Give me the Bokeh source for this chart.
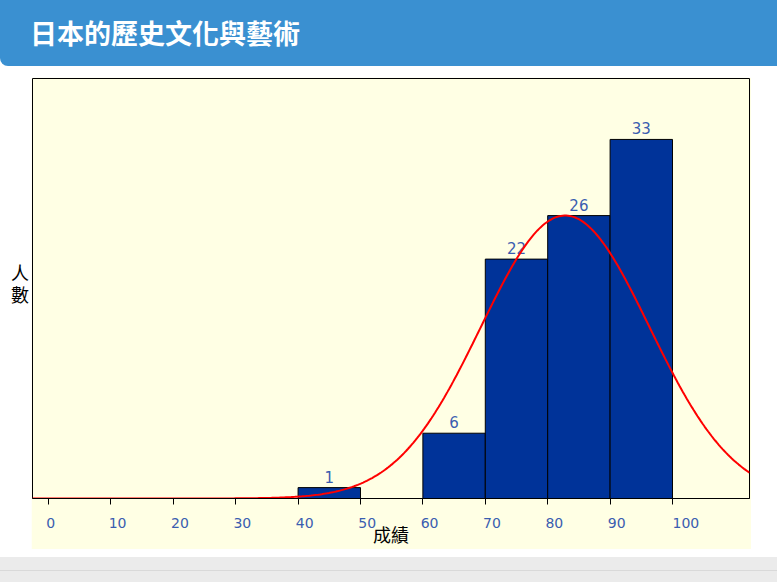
import numpy as np
from bokeh.plotting import figure
from bokeh.models import Range1d, FixedTicker, ColumnDataSource, Div, Spacer
from bokeh.layouts import column, row
from bokeh.core.properties import value
from bokeh.embed import file_html
from bokeh.resources import INLINE

# ---- data ----
title_text = "日本的歷史文化與藝術"
x_title = "成績"
y_title = "人數"
bin_left = [40, 60, 70, 80, 90]
bin_right = [50, 70, 80, 90, 100]
counts = [1, 6, 22, 26, 33]
tick_values = [0, 10, 20, 30, 40, 50, 60, 70, 80, 90, 100]
tick_labels = ["0", "10", "20", "30", "40", "50", "60", "70", "80", "90", "100"]
curve_mean = 82.8
curve_sd = 13.5
curve_n = 88
bin_width = 10

X0, X1 = -2.56, 112.34
Y0, Y1 = 0, 38.6
BG = "#FFFFE4"
BLUE_TXT = "#3A5DB0"
NB = "\u00a0"
FIG_H = 472

p = figure(width=720, height=FIG_H, x_range=Range1d(X0, X1), y_range=Range1d(Y0, Y1),
           output_backend="svg", toolbar_location=None,
           min_border_left=1, min_border_right=2, min_border_top=1, min_border_bottom=48)
p.background_fill_color = BG
p.border_fill_color = BG
p.outline_line_color = "black"
p.grid.visible = False
p.yaxis.visible = False

xa = p.xaxis[0]
xa.ticker = FixedTicker(ticks=tick_values)
xa.axis_line_color = "black"
xa.major_tick_line_color = "black"
xa.major_tick_out = 6
xa.major_tick_in = 0
xa.minor_tick_line_color = None
# labels sit to the right of their ticks in the reference: pad with no-break spaces
pad = {1: 1, 2: 3, 3: 6}
xa.major_label_overrides = {t: NB * pad[len(s)] + s for t, s in zip(tick_values, tick_labels)}
xa.major_label_text_color = BLUE_TXT
xa.major_label_text_font = "DejaVu Sans"
xa.major_label_text_font_size = "14px"
xa.major_label_standoff = 10
xa.axis_label = x_title
xa.axis_label_text_font = "Noto Sans CJK TC"
xa.axis_label_text_font_style = "normal"
xa.axis_label_text_font_size = "18px"
xa.axis_label_text_color = "black"
xa.axis_label_standoff = -13

src = ColumnDataSource(dict(left=bin_left, right=bin_right, top=counts,
                            mid=[(a + b) / 2 for a, b in zip(bin_left, bin_right)],
                            lab=[str(c) for c in counts]))
p.quad(left="left", right="right", top="top", bottom=0, source=src,
       fill_color="#003399", line_color="black", line_width=1)
p.text(x="mid", y="top", text="lab", source=src, text_align="center", text_baseline="bottom",
       y_offset=-5, text_color=BLUE_TXT, text_font=value("DejaVu Sans"), text_font_size="15px")

xs = np.linspace(X0, X1, 400)
ys = curve_n * bin_width / (curve_sd * np.sqrt(2 * np.pi)) * np.exp(-0.5 * ((xs - curve_mean) / curve_sd) ** 2)
p.line(xs, ys, line_color="red", line_width=2)

title_div = Div(width=777, height=66, margin=0, text=(
    '<div style="width:777px;height:66px;background:#3A90D1;border-radius:0 0 0 8px;'
    'box-sizing:border-box;padding-left:30px;line-height:66px;color:white;'
    "font-family:'Noto Sans CJK TC';font-weight:bold;font-size:27px;\">" + title_text + '</div>'))
ylab_div = Div(width=31, height=FIG_H, margin=0, text=(
    '<div style="margin-top:187px;margin-left:10px;writing-mode:vertical-rl;font-size:18px;'
    "line-height:20px;letter-spacing:4px;color:black;font-family:'Noto Sans CJK TC';\">"
    + y_title + '</div>'))
footer = Div(width=777, height=25, margin=0, text=(
    '<div style="width:777px;height:25px;background:#EBEBEB;">'
    '<div style="height:14px;border-bottom:1px solid #D9D9D9;"></div></div>'))

layout = column(title_div, Spacer(width=777, height=11, margin=0),
                row(ylab_div, p, Spacer(width=26, height=FIG_H, margin=0), margin=0),
                Spacer(width=777, height=8, margin=0), footer, margin=0)

open("out.html", "w").write(file_html(layout, INLINE))
